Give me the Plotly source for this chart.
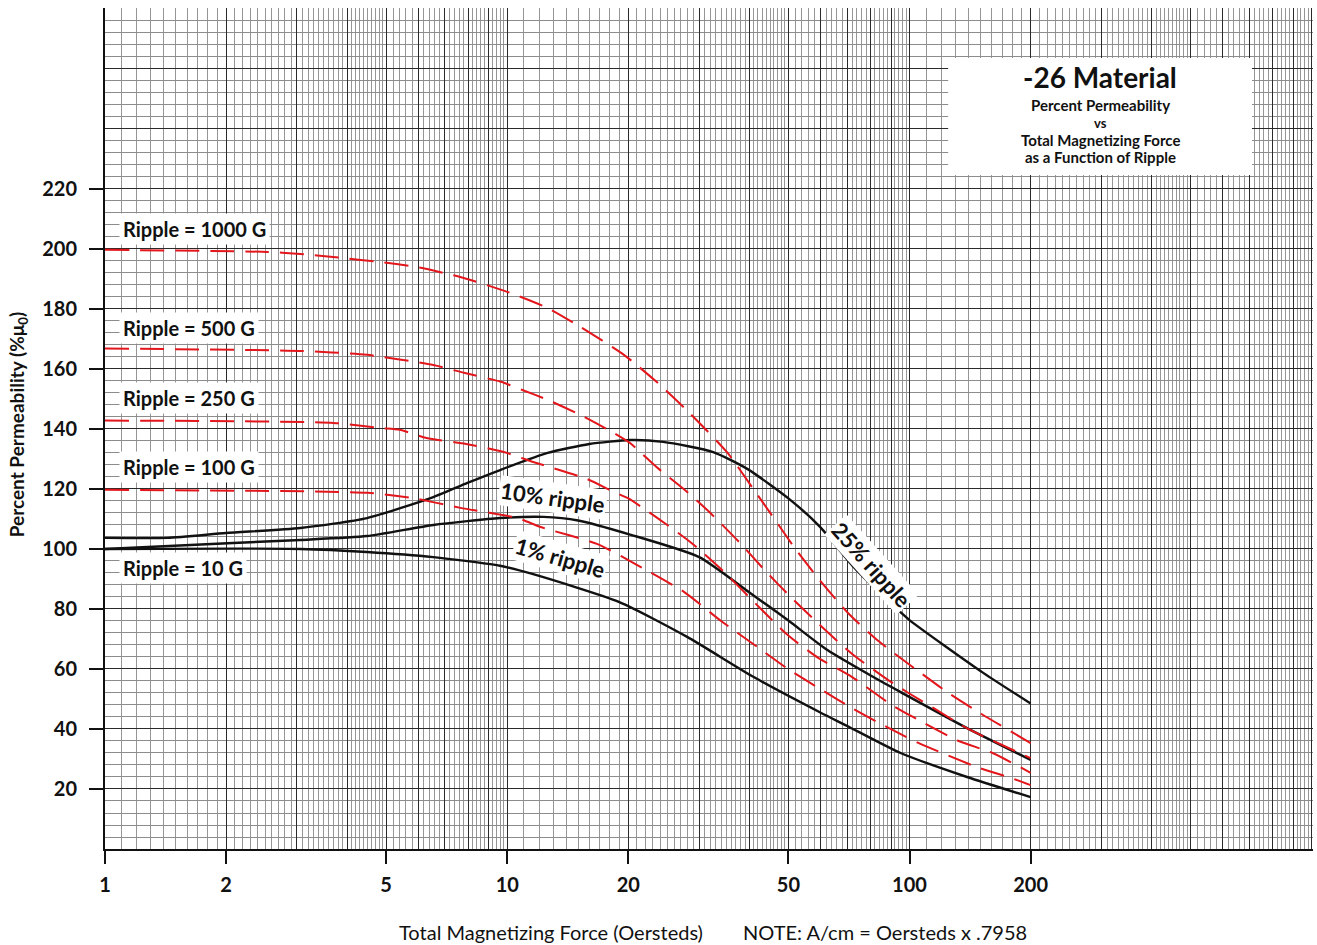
import math
import plotly.graph_objects as go

# ---------------- data ----------------
# Solid black curves: percent permeability vs magnetizing force, by % ripple
r25_h = [1, 1.43, 2, 3.06, 4.48, 6.55, 7.96, 9.6, 12.6, 16, 20.2, 24.4, 32.5, 39.5, 50.6, 60, 72.6, 88, 100, 152.5, 200]
r25_p = [103.7, 103.7, 105.3, 107, 110.3, 117.3, 122, 126.3, 132, 135, 136.3, 135.7, 132.3, 126.7, 116.3, 107.3, 94, 83, 76.3, 58.7, 48.5]

r10_h = [1, 2.08, 3.06, 4.48, 6.55, 9.6, 12.3, 15, 20.2, 30, 40, 49.8, 62.5, 81.3, 95, 139, 200]
r10_p = [100, 102, 103, 104.3, 108, 110.3, 110.7, 109.5, 104.8, 97.3, 85.5, 76.3, 66.3, 57.3, 52.3, 40.3, 29.7]

r1_h = [1, 3.06, 4.48, 6.55, 9.6, 11.6, 19, 28, 41, 60, 70, 95, 139, 200]
r1_p = [100, 100, 99, 97.3, 94.4, 91.6, 82.3, 70.7, 57.3, 45.5, 41, 32, 24, 17.3]

# Red dashed curves: constant ripple flux density (Gauss)
g1000_h = [1, 2.53, 3.06, 3.69, 4.92, 6.1, 7.8, 10, 12.6, 15.2, 19.5, 23.5, 28.4, 35.3, 40.9, 45.6, 51.6, 60.3, 70.7, 83.7, 101, 124, 151, 200]
g1000_p = [199.7, 199, 198.3, 197.3, 195.5, 193.7, 190.3, 185.7, 180.3, 174, 164.7, 155.7, 145.3, 132, 120, 111, 100.7, 89, 78.3, 69.3, 61, 52.3, 45, 35.3]

g500_h = [1, 3.06, 4.48, 6.55, 7.8, 9.6, 10.9, 12.6, 15.2, 18.4, 20.2, 23.5, 28, 31.8, 37.9, 43.6, 50.9, 60.6, 72, 88.5, 99.4, 114.6, 140, 200]
g500_p = [166.8, 166, 164.7, 161.3, 158.7, 155.8, 153, 149.7, 144.7, 138.7, 135.3, 127.3, 119, 112.3, 102, 93, 83.7, 74, 65, 56.3, 52, 47, 40, 30.3]

g250_h = [1, 3.7, 4.83, 5.4, 6.3, 7.9, 9.8, 11.6, 15.8, 18.4, 19.9, 23.4, 28.7, 34.5, 41.5, 49.8, 59.3, 72, 89.6, 102, 132.6, 160.8, 200]
g250_p = [142.8, 142, 140.3, 139.7, 137, 135, 132.3, 129, 123.3, 119, 117, 110.7, 102, 92.5, 81.7, 71.3, 63.7, 57.3, 48.3, 44, 36, 32, 25.4]

g100_h = [1, 4.5, 5.8, 7.65, 10.6, 12.1, 16.7, 21.6, 27.5, 34, 41.2, 49.5, 60, 72.5, 89.7, 105.5, 147, 178.5, 200]
g100_p = [119.7, 118.7, 117, 113.7, 110.3, 107.3, 101.7, 93.8, 85.7, 76, 68, 60.3, 53.3, 46.7, 40, 35.3, 27.3, 23.7, 21.3]

# tick labels
x_tick_vals = [1, 2, 5, 10, 20, 50, 100, 200]
y_tick_vals = [20, 40, 60, 80, 100, 120, 140, 160, 180, 200, 220]

ripple_labels = ["Ripple = 1000 G", "Ripple = 500 G", "Ripple = 250 G", "Ripple = 100 G", "Ripple = 10 G"]
ripple_label_p = [206.8, 173.8, 150.2, 127.2, 93.6]

# ---------------- figure ----------------
FONT = "Lato"
BLACK = "#111111"
RED = "#e3161c"

fig = go.Figure()

for h, p in [(r25_h, r25_p), (r10_h, r10_p), (r1_h, r1_p)]:
    fig.add_trace(go.Scatter(x=h, y=p, mode="lines", line=dict(color=BLACK, width=2.4, shape="spline", smoothing=0.6),
                             showlegend=False, hoverinfo="skip"))

for h, p in [(g1000_h, g1000_p), (g500_h, g500_p), (g250_h, g250_p), (g100_h, g100_p)]:
    fig.add_trace(go.Scatter(x=h, y=p, mode="lines",
                             line=dict(color=RED, width=2, dash="24px,11px", shape="spline", smoothing=0.6),
                             showlegend=False, hoverinfo="skip"))

# empty trace to instantiate the overlay (grid) subplot
fig.add_trace(go.Scatter(x=[], y=[], xaxis="x2", yaxis="y2", showlegend=False, hoverinfo="skip"))

# graph-paper grid values
major_x = [m * d for d in (1, 10, 100) for m in range(1, 10)] + [1000]
minor_x = []
for d in (1, 10, 100):
    for k in range(11, 50):
        if k % 10:
            minor_x.append(round(k / 10 * d, 6))
    for k in range(52, 100, 2):
        if k % 10:
            minor_x.append(round(k / 10 * d, 6))
major_y = list(range(0, 281, 20))
minor_y = [v for v in range(0, 281, 4) if v % 20]

XR = [0, math.log10(1000) + 0.003]
YR = [0, 280.3]

fig.update_layout(
    width=1317, height=945,
    margin=dict(l=105, r=4, t=8, b=96, autoexpand=False),
    paper_bgcolor="white", plot_bgcolor="white",
    xaxis=dict(type="log", range=XR, tickmode="array", tickvals=x_tick_vals, automargin=False,
               ticktext=[str(v) for v in x_tick_vals], ticks="outside", ticklen=13, tickwidth=1.5,
               tickcolor=BLACK, showgrid=False, zeroline=False, showline=True, linecolor=BLACK, linewidth=2,
               tickfont=dict(family=FONT, size=20, color=BLACK, weight="bold"), ticklabelstandoff=4),
    yaxis=dict(range=YR, tickmode="array", tickvals=y_tick_vals, ticks="outside", ticklen=14, tickwidth=1.5,
               automargin=False,
               tickcolor=BLACK, showgrid=False, zeroline=False, showline=True, linecolor=BLACK, linewidth=2,
               tickfont=dict(family=FONT, size=20, color=BLACK, weight="bold"), ticklabelstandoff=8),
    xaxis2=dict(type="log", range=XR, overlaying="x", anchor="y2", tickmode="array", tickvals=major_x,
                automargin=False,
                showticklabels=False, ticks="", showgrid=True, gridcolor="#2a2a2a", gridwidth=1.4,
                zeroline=False, showline=False,
                minor=dict(tickmode="array", tickvals=minor_x, showgrid=True, gridcolor="#969696",
                           gridwidth=0.8, ticks="")),
    yaxis2=dict(range=YR, overlaying="y", anchor="x2", tickmode="array", tickvals=major_y,
                automargin=False,
                showticklabels=False, ticks="", showgrid=True, gridcolor="#2a2a2a", gridwidth=1.4,
                zeroline=False, showline=False,
                minor=dict(tickmode="array", tickvals=minor_y, showgrid=True, gridcolor="#8c8c8c",
                           gridwidth=0.8, ticks="")),
)

# title box
fig.add_shape(type="rect", xref="paper", yref="paper", x0=0.698, x1=0.9495, y0=0.8014, y1=0.9405,
              fillcolor="white", line=dict(width=0), layer="above")
title_lines = [("-26 Material", 28, 0.918), ("Percent Permeability", 15, 0.8847), ("vs", 13, 0.8633),
               ("Total Magnetizing Force", 15, 0.843), ("as a Function of Ripple", 15, 0.8228)]
for txt, sz, yy in title_lines:
    fig.add_annotation(text=txt, xref="paper", yref="paper", x=0.8237, y=yy, showarrow=False,
                       xanchor="center", yanchor="middle",
                       font=dict(family=FONT, size=sz, color=BLACK, weight="bold"))

# ripple labels
for txt, p in zip(ripple_labels, ripple_label_p):
    fig.add_annotation(text=txt, x=0.034, y=p, xref="x", yref="y", showarrow=False, xanchor="left",
                       yanchor="middle", bgcolor="white", borderpad=3,
                       font=dict(family=FONT, size=20, color=BLACK, weight="bold"))

# curve labels
curve_labels = [("10% ripple", math.log10(12.96), 117.0, 8),
                ("1% ripple", math.log10(13.5), 97.0, 16),
                ("25% ripple", math.log10(80.4), 94.8, 48)]
for txt, lx, p, ang in curve_labels:
    fig.add_annotation(text=txt, x=lx, y=p, xref="x", yref="y", showarrow=False, textangle=ang,
                       bgcolor="white", borderpad=1,
                       font=dict(family=FONT, size=22, color=BLACK, weight="bold"))

# axis titles
fig.add_annotation(text="Percent Permeability (%\u03bc<sub>0</sub>)", xref="paper", yref="paper",
                   x=-0.072, y=0.505, showarrow=False, textangle=-90, xanchor="center", yanchor="middle",
                   font=dict(family=FONT, size=19, color=BLACK, weight="bold"))
fig.add_annotation(text="Total Magnetizing Force (Oersteds)", xref="paper", yref="paper",
                   x=0.2417, y=-0.0987, showarrow=False, xanchor="left", yanchor="middle",
                   font=dict(family=FONT, size=20, color=BLACK))
fig.add_annotation(text="NOTE: A/cm = Oersteds x .7958", xref="paper", yref="paper",
                   x=0.5265, y=-0.0987, showarrow=False, xanchor="left", yanchor="middle",
                   font=dict(family=FONT, size=20, color=BLACK))

fig.write_html("out.html", config={"displayModeBar": False},
               post_script="document.body.style.margin='0';document.body.style.overflow='hidden';")
